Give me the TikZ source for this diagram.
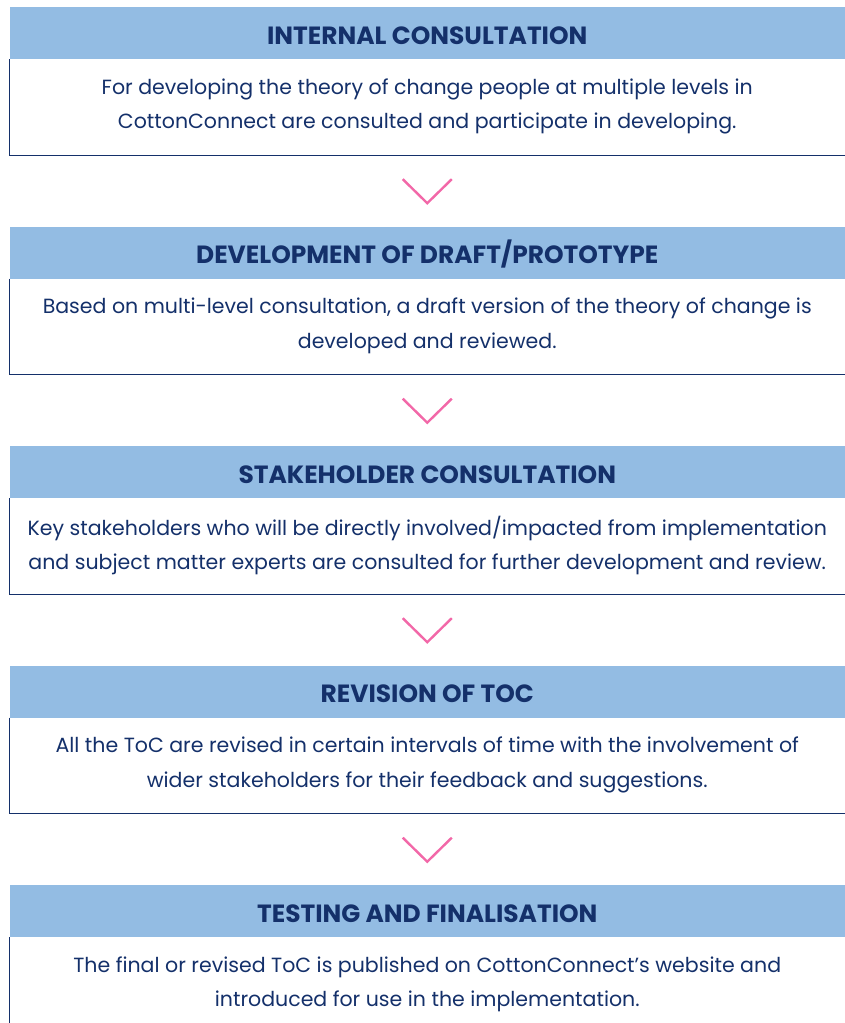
\documentclass[tikz,border=0pt]{standalone}
\usepackage{fontspec}
\setmainfont{Poppins}
\definecolor{bandblue}{HTML}{93BCE3}
\definecolor{navy}{HTML}{14306A}
\definecolor{chevpink}{HTML}{F268A8}
\begin{document}
\begin{tikzpicture}[line join=miter,
  band/.style={fill=bandblue,draw=none,minimum width=835.5bp,minimum height=52bp,
    inner sep=0pt,text height=22.4bp,text depth=0pt,text=navy,
    font=\fontsize{25}{28}\selectfont\bfseries},
  body/.style={draw=none,align=center,text=navy,inner sep=0pt,
    font=\fontsize{20.6}{34.5}\selectfont},
  frame/.style={navy,line width=1.1bp},
  chevron/.style={chevpink,line width=2.4bp,line cap=butt},
]
\useasboundingbox (0bp,0bp) rectangle (845bp,-1023bp);
%%
\node (head_0) at (427.25bp,-33.0bp) [band] {INTERNAL CONSULTATION};
  \node (body_0) at (427.25bp,-106.5bp) [body] {For developing the theory of change people at multiple levels in\\CottonConnect are consulted and participate in developing.};
  \node (head_1) at (427.25bp,-252.5bp) [band] {DEVELOPMENT OF DRAFT/PROTOTYPE};
  \node (body_1) at (427.25bp,-326.0bp) [body] {Based on multi-level consultation, a draft version of the theory of change is\\developed and reviewed.};
  \node (head_2) at (427.25bp,-472.0bp) [band] {STAKEHOLDER CONSULTATION};
  \node (body_2) at (427.25bp,-545.5bp) [body] {Key stakeholders who will be directly involved/impacted from implementation\\and subject matter experts are consulted for further development and review.};
  \node (head_3) at (427.25bp,-691.5bp) [band] {REVISION OF TOC};
  \node (body_3) at (427.25bp,-765.0bp) [body] {All the ToC are revised in certain intervals of time with the involvement of\\wider stakeholders for their feedback and suggestions.};
  \node (head_4) at (427.25bp,-911.0bp) [band] {TESTING AND FINALISATION};
  \node (body_4) at (427.25bp,-984.5bp) [body] {The final or revised ToC is published on CottonConnect's website and\\introduced for use in the implementation.};
%
  \draw [frame] (head_0.south west) -- ++(0bp,-96bp) -| (head_0.south east);
  \draw [frame] (head_1.south west) -- ++(0bp,-96bp) -| (head_1.south east);
  \draw [frame] (head_2.south west) -- ++(0bp,-96bp) -| (head_2.south east);
  \draw [frame] (head_3.south west) -- ++(0bp,-96bp) -| (head_3.south east);
  \draw [frame] (head_4.south west) -- ++(0bp,-86bp);
%
  \foreach \i/\j in {0/1,1/2,2/3,3/4}
    \draw [chevron] ([xshift=-24.5bp,yshift=-24bp]body_\i.south |- head_\i.south) ++(0bp,-96bp)
      -- ++(24.5bp,-24bp) -- ++(24.5bp,24bp);
%
\end{tikzpicture}
\end{document}
